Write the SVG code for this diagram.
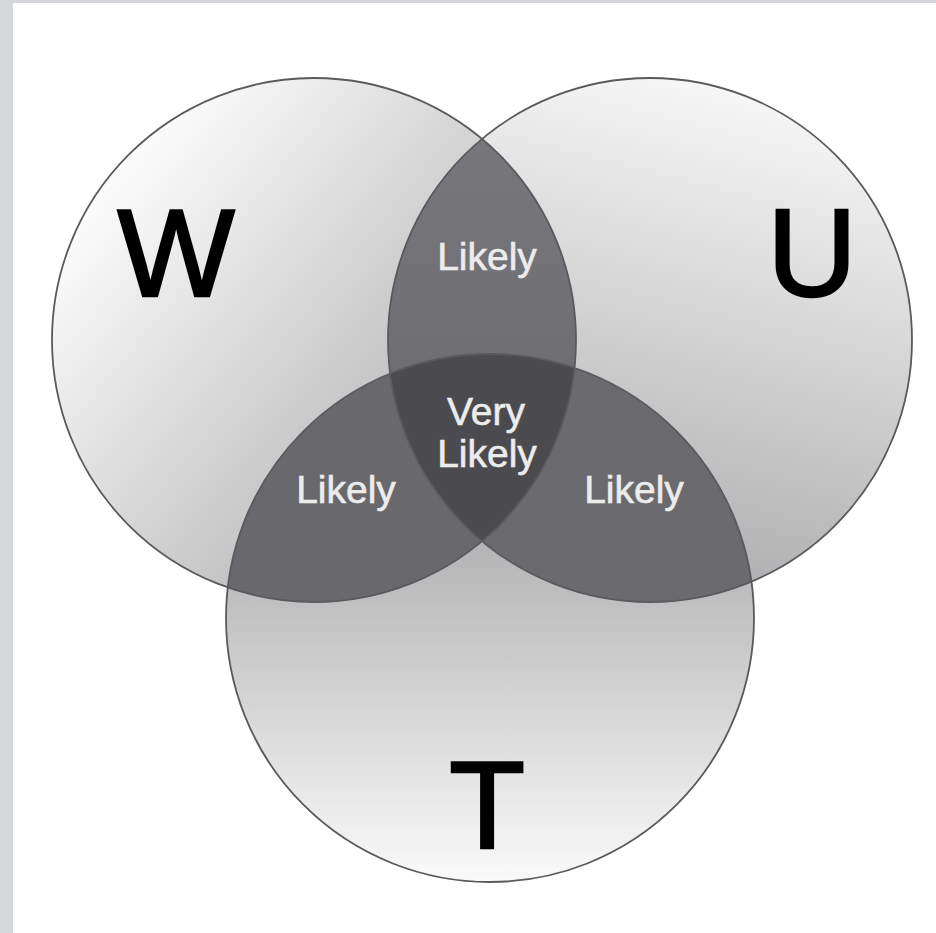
<svg xmlns="http://www.w3.org/2000/svg" width="936" height="933" viewBox="0 0 936 933">
  <style>
    .outline { fill: none; stroke: #5a5a5e; stroke-width: 1.8; }
    .big { font-family: "Liberation Sans", Arial, sans-serif; font-size: 124px; fill: #000000; stroke: #000000; stroke-width: 2.5; text-anchor: middle; }
    .lbl { font-family: "Liberation Sans", Arial, sans-serif; font-size: 39px; fill: #ececec; stroke: #ececec; stroke-width: 0.6; text-anchor: middle; }
  </style>
  <defs>
    <linearGradient id="gW" x1="0.1" y1="0.15" x2="0.95" y2="0.85">
      <stop offset="0" stop-color="#ffffff"/>
      <stop offset="1" stop-color="#a2a2a4"/>
    </linearGradient>
    <linearGradient id="gU" x1="0.6" y1="0" x2="0.35" y2="1">
      <stop offset="0" stop-color="#f7f7f7"/>
      <stop offset="1" stop-color="#a8a8aa"/>
    </linearGradient>
    <linearGradient id="gT" x1="0.5" y1="0.25" x2="0.5" y2="1">
      <stop offset="0" stop-color="#a8a8aa"/>
      <stop offset="1" stop-color="#fafafa"/>
    </linearGradient>
    <linearGradient id="gLens" x1="0" y1="0" x2="0" y2="1">
      <stop offset="0" stop-color="#7a7a7e"/>
      <stop offset="1" stop-color="#66666a"/>
    </linearGradient>
    <clipPath id="cW"><circle cx="314" cy="340" r="262"/></clipPath>
    <clipPath id="cU"><circle cx="650" cy="340" r="262"/></clipPath>
    <clipPath id="cT"><circle cx="490" cy="618" r="264"/></clipPath>
  </defs>

  <rect x="0" y="0" width="936" height="933" fill="#ffffff"/>
  <rect x="0" y="0" width="13" height="933" fill="#d6d7db"/>
  <rect x="0" y="0" width="936" height="3" fill="#d6d7db"/>

  <g id="node-W">
    <circle cx="314" cy="340" r="262" fill="url(#gW)"/>
  </g>
  <g id="node-U">
    <circle cx="650" cy="340" r="262" fill="url(#gU)"/>
  </g>
  <g id="node-T">
    <circle cx="490" cy="618" r="264" fill="url(#gT)"/>
  </g>

  <g id="overlaps">
    <circle id="lens-WU" cx="650" cy="340" r="262" fill="url(#gLens)" clip-path="url(#cW)"/>
    <circle id="lens-WT" cx="490" cy="618" r="264" fill="#69696d" clip-path="url(#cW)"/>
    <circle id="lens-UT" cx="490" cy="618" r="264" fill="#6b6b6f" clip-path="url(#cU)"/>
    <g clip-path="url(#cW)">
      <circle id="core-WUT" cx="490" cy="618" r="264" fill="#4b4b4f" clip-path="url(#cU)"/>
    </g>
  </g>

  <g id="connectors"></g>

  <g id="outlines">
    <circle class="outline" cx="314" cy="340" r="262"/>
    <circle class="outline" cx="650" cy="340" r="262"/>
    <circle class="outline" cx="490" cy="618" r="264"/>
  </g>

  <g id="labels">
    <text class="big" x="176" y="296">W</text>
    <text class="big" x="812" y="296">U</text>
    <text class="big" x="487" y="848">T</text>
    <text class="lbl" x="487" y="270">Likely</text>
    <text class="lbl" x="486" y="425">Very</text>
    <text class="lbl" x="487" y="467">Likely</text>
    <text class="lbl" x="346" y="503">Likely</text>
    <text class="lbl" x="634" y="503">Likely</text>
  </g>
</svg>
